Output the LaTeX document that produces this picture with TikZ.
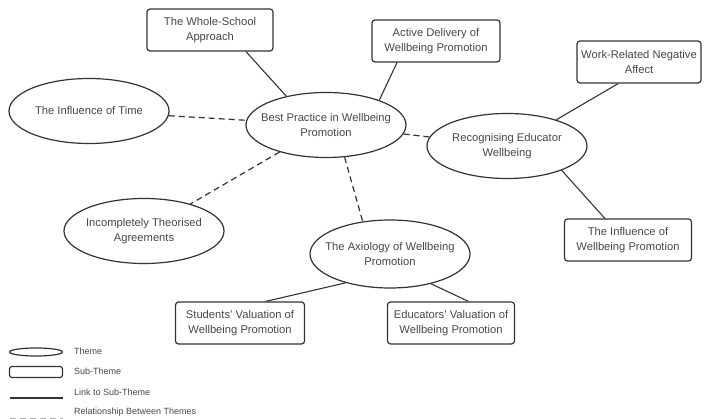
\documentclass[tikz,border=0pt]{standalone}
\usepackage{fontspec}
\setmainfont{Liberation Sans}
\usetikzlibrary{shapes.geometric}
\definecolor{linec}{HTML}{333333}
\definecolor{textc}{HTML}{474747}
\tikzset{
  theme/.style={ellipse, draw=linec, line width=1.2pt, minimum width=160pt, minimum height=65pt, inner xsep=-14pt, inner ysep=0pt, text=textc, font=\fontsize{11.2}{15}\selectfont, align=center},
  subtheme/.style={rectangle, rounded corners=3pt, draw=linec, line width=1.2pt, minimum width=126pt, minimum height=42pt, inner sep=0pt, text=textc, font=\fontsize{11.2}{15}\selectfont, align=center},
  link/.style={draw=linec, line width=1.1pt},
  rel/.style={draw=linec, line width=1.2pt, dash pattern=on 6pt off 4pt},
  legtext/.style={anchor=west, text=textc, font=\fontsize{9}{10}\selectfont, inner sep=0pt}
}
\begin{document}
\begin{tikzpicture}[x=1pt, y=-1pt]
\useasboundingbox (0,0) rectangle (704,419);
% themes
\node[theme] (bp) at (326,125) {Best Practice in Wellbeing\\Promotion};
\node[theme] (time) at (89,111) {The Influence of Time};
\node[theme] (rec) at (507,146) {Recognising Educator\\Wellbeing};
\node[theme] (inc) at (144,231) {Incompletely Theorised\\Agreements};
\node[theme, minimum height=68pt] (ax) at (390,254) {The Axiology of Wellbeing\\Promotion};
% sub-themes
\node[subtheme] (ws) at (210,30) {The Whole-School\\Approach};
\node[subtheme, minimum width=128pt] (ad) at (436,41) {Active Delivery of\\Wellbeing Promotion};
\node[subtheme, minimum width=124pt] (wr) at (639,62) {Work-Related Negative\\Affect};
\node[subtheme, minimum width=127pt] (iwp) at (628,240) {The Influence of\\Wellbeing Promotion};
\node[subtheme, minimum width=129pt] (st) at (240,323) {Students' Valuation of\\Wellbeing Promotion};
\node[subtheme, minimum width=127pt] (ed) at (451,323) {Educators' Valuation of\\Wellbeing Promotion};
% links
\draw[link] (ws.-31) -- (bp.144);
\draw[link] (ad.-151) -- (bp.25);
\draw[link] (rec.28) -- (wr.-134);
\draw[link] (rec.-24) -- (iwp.137);
\draw[link] (ax.-147) -- (st.40);
\draw[link] (ax.-36) -- (ed.51);
% relationships
\draw[rel] (time) -- (bp);
\draw[rel] (bp) -- (rec);
\draw[rel] (bp) -- (inc);
\draw[rel] (bp.-60) -- (ax.130);
% legend
\node[ellipse, draw=linec, line width=1.2pt, minimum width=53pt, minimum height=8pt, inner sep=0pt] (lt) at (36,352) {};
\node[legtext] (ltt) at (74,351) {Theme};
\node[rectangle, rounded corners=2.5pt, draw=linec, line width=1.2pt, minimum width=53pt, minimum height=11pt, inner sep=0pt] (ls) at (36,372) {};
\node[legtext] (lst) at (74,371) {Sub-Theme};
\coordinate (l1a) at (10,398);
\coordinate (l1b) at (63,398);
\draw[link] (l1a) -- (l1b);
\node[legtext] (llt) at (74,392) {Link to Sub-Theme};
\coordinate (l2a) at (10,419);
\coordinate (l2b) at (63,419);
\draw[rel, draw=linec!40] (l2a) -- (l2b);
\node[legtext] (lrt) at (74,412) {Relationship Between Themes};
\end{tikzpicture}
\end{document}
